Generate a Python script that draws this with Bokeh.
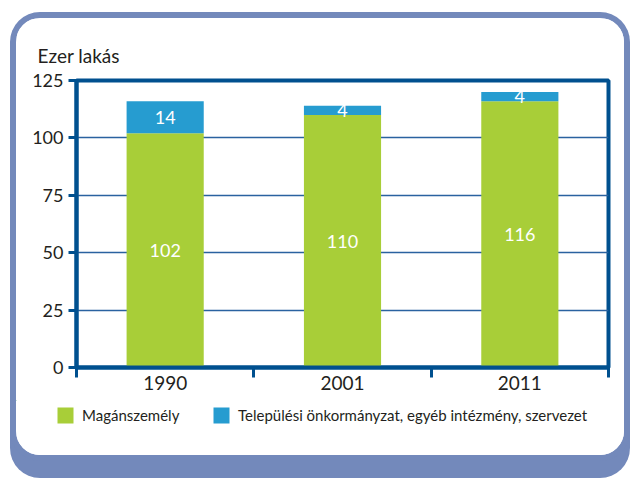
from bokeh.plotting import figure
from bokeh.layouts import column
from bokeh.models import (Range1d, FixedTicker, ColumnDataSource, LabelSet, Legend, LegendItem)
from bokeh.embed import file_html
from bokeh.resources import INLINE
from bokeh.core.properties import value

# ---- data ----
years = ["1990", "2001", "2011"]
private = [102, 110, 116]
municipal = [14, 4, 4]
y_ticks = [0, 25, 50, 75, 100, 125]
y_title = "Ezer lakás"
series_names = ["Magánszemély", "Települési önkormányzat, egyéb intézmény, szervezet"]

# ---- style ----
FONT = "Lato, sans-serif"
GREEN = "#a8ce38"
BLUE = "#269cd0"
DARK = "#00508f"
GRID = "#2a62a0"
FRAME = "#7389bb"
TEXT = "#231f20"

# white panel = column of chart + legend strip
W = 608
H1, H2 = 382, 55
ML, MR, MT = 60, 16, 62
MB = H1 - 349

x = [i + 0.5 for i in range(len(years))]
src = ColumnDataSource(dict(
    x=x, private=private, municipal=municipal,
    p_mid=[v / 2 for v in private],
    m_mid=[a + b / 2 for a, b in zip(private, municipal)],
    p_txt=[str(v) for v in private],
    m_txt=[str(v) for v in municipal],
))

p = figure(width=W, height=H1, x_range=Range1d(0, len(years)), y_range=Range1d(0, y_ticks[-1]),
           output_backend="svg", toolbar_location=None,
           min_border_left=ML, min_border_right=MR, min_border_top=MT, min_border_bottom=MB,
           border_fill_color="white", background_fill_color="white")

rs = p.vbar_stack(["private", "municipal"], x="x", width=0.435, source=src,
                  color=[GREEN, BLUE], line_alpha=0)

for ycol, tcol in (("p_mid", "p_txt"), ("m_mid", "m_txt")):
    p.add_layout(LabelSet(x="x", y=ycol, text=tcol, source=src, text_color="white",
                          text_font=value(FONT), text_font_size="18px", text_align="center",
                          text_baseline="middle"))

# frame lines
p.outline_line_color = DARK
p.outline_line_width = 4
p.outline_line_alpha = 1

xa = p.xaxis[0]
xa.ticker = FixedTicker(ticks=x, minor_ticks=list(range(len(years) + 1)))
xa.major_label_overrides = {xv: yv for xv, yv in zip(x, years)}
xa.axis_line_color = DARK
xa.axis_line_width = 4
xa.major_tick_out = 0
xa.major_tick_in = 0
xa.minor_tick_out = 10
xa.minor_tick_in = 0
xa.minor_tick_line_width = 3
xa.minor_tick_line_color = DARK
xa.major_label_standoff = -2
xa.major_label_text_font = FONT
xa.major_label_text_font_size = "19px"
xa.major_label_text_color = TEXT

ya = p.yaxis[0]
ya.ticker = FixedTicker(ticks=y_ticks)
ya.axis_line_color = DARK
ya.axis_line_width = 4
ya.major_tick_out = 8
ya.major_tick_in = 0
ya.major_tick_line_width = 3
ya.major_tick_line_color = DARK
ya.minor_tick_line_color = None
ya.major_label_standoff = 5
ya.major_label_text_font = FONT
ya.major_label_text_font_size = "18px"
ya.major_label_text_color = TEXT

p.xgrid.grid_line_color = None
p.ygrid.ticker = FixedTicker(ticks=y_ticks[1:-1])
p.ygrid.grid_line_color = GRID
p.ygrid.grid_line_width = 1.5

# "Ezer lakás" as a left-aligned title
p.title.text = y_title
p.title.align = "left"
p.title.offset = -39
p.title.standoff = 27
p.title.text_font = FONT
p.title.text_font_size = "19px"
p.title.text_font_style = "normal"
p.title.text_color = TEXT

# legend strip: zero-height proxies of the two series, only their legend entries show
pl = figure(width=W, height=H2, x_range=Range1d(10, 11), y_range=Range1d(0, 1),
            output_backend="svg", toolbar_location=None, title=None,
            x_axis_type=None, y_axis_type=None, min_border=0,
            border_fill_color="white", background_fill_color="white")
pl.outline_line_color = None
swatches = [pl.vbar(x="x", bottom=col, top=col, width=0.435, source=src,
                    color=c, line_alpha=0)
            for col, c in (("private", GREEN), ("municipal", BLUE))]

for fig in (p, pl):
    if "frame_align" in fig.properties():
        fig.frame_align = False

for r, name, lx in zip(swatches, series_names, [39, 195]):
    leg = Legend(items=[LegendItem(label=name, renderers=[r])],
                 location=(lx, H2 - 25), orientation="horizontal",
                 glyph_width=20, glyph_height=20, label_height=20, label_standoff=7,
                 padding=0, margin=0, spacing=0, border_line_alpha=0, background_fill_alpha=0,
                 label_text_font=FONT, label_text_font_size="15px", label_text_color=TEXT)
    pl.add_layout(leg, "center")

layout = column(p, pl, spacing=0)
layout.styles = {
    "position": "relative",
    "left": "16px",
    "top": "18px",
    "background": "white",
    "border-radius": "24px",
    "overflow": "hidden",
    "box-shadow": f"0 0 0 6px {FRAME}, 0 17px 0 6px {FRAME}",
}

open("out.html", "w").write(file_html(layout, INLINE))
